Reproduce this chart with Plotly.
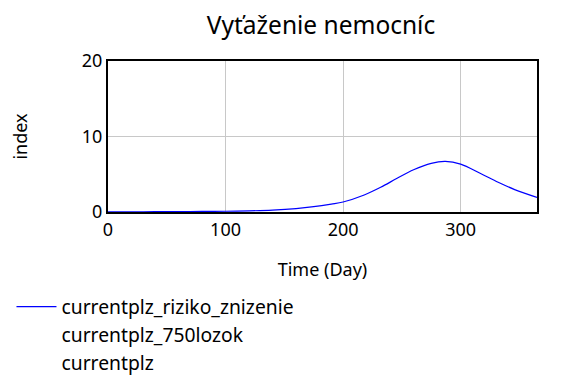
import plotly.graph_objects as go

time_days = [0, 20, 40, 60, 80, 100, 120, 140, 160, 175, 190, 200, 218, 232, 246, 260, 275, 287, 300, 317, 332, 346, 365]
riziko_znizenie = [0.02, 0.03, 0.04, 0.05, 0.07, 0.1, 0.15, 0.25, 0.45, 0.7, 1.05, 1.33, 2.26, 3.27, 4.47, 5.6, 6.45, 6.7, 6.35, 5.1, 3.94, 2.97, 1.94]
series_names = ["currentplz_riziko_znizenie", "currentplz_750lozok", "currentplz"]
x_ticks = [0, 100, 200, 300]
y_ticks = [0, 10, 20]

FONT = "Noto Sans"

fig = go.Figure()
fig.add_trace(go.Scatter(x=time_days, y=riziko_znizenie, mode="lines",
                         line=dict(color="#0000ff", width=1.2, shape="spline"),
                         name=series_names[0]))
for nm in series_names[1:]:
    fig.add_trace(go.Scatter(x=[None], y=[None], mode="lines",
                             line=dict(color="rgba(0,0,0,0)", width=2), name=nm))

fig.update_layout(
    width=576, height=384,
    margin=dict(l=100, r=47, t=53, b=180, autoexpand=False),
    paper_bgcolor="white", plot_bgcolor="white",
    font=dict(family=FONT, color="black", size=16),
    title=dict(text="Vyťaženie nemocníc", x=0.5434, xanchor="center", xref="container",
               y=0.9557, yanchor="middle", yref="container",
               font=dict(size=24.5, family=FONT)),
    showlegend=True,
    legend=dict(x=-0.225, y=-0.5, xanchor="left", yanchor="top",
                font=dict(size=19.3, family=FONT), itemwidth=40, tracegroupgap=0,
                bgcolor="rgba(0,0,0,0)"),
)
fig.update_xaxes(range=[0, 365], tickvals=x_ticks, showgrid=True, gridcolor="#c8c8c8",
                 gridwidth=1, showline=True, linecolor="black", linewidth=2, mirror=True,
                 ticks="", zeroline=False, automargin=False,
                 title=dict(text="Time (Day)", standoff=24, font=dict(size=18)),
                 tickfont=dict(size=18))
fig.update_yaxes(range=[0, 20], tickvals=y_ticks, showgrid=True, gridcolor="#c8c8c8",
                 gridwidth=1, showline=True, linecolor="black", linewidth=2, mirror=True,
                 ticks="", zeroline=False, automargin=False,
                 title=dict(text="index", standoff=55, font=dict(size=18)),
                 tickfont=dict(size=18))

fig.write_html("out.html")
